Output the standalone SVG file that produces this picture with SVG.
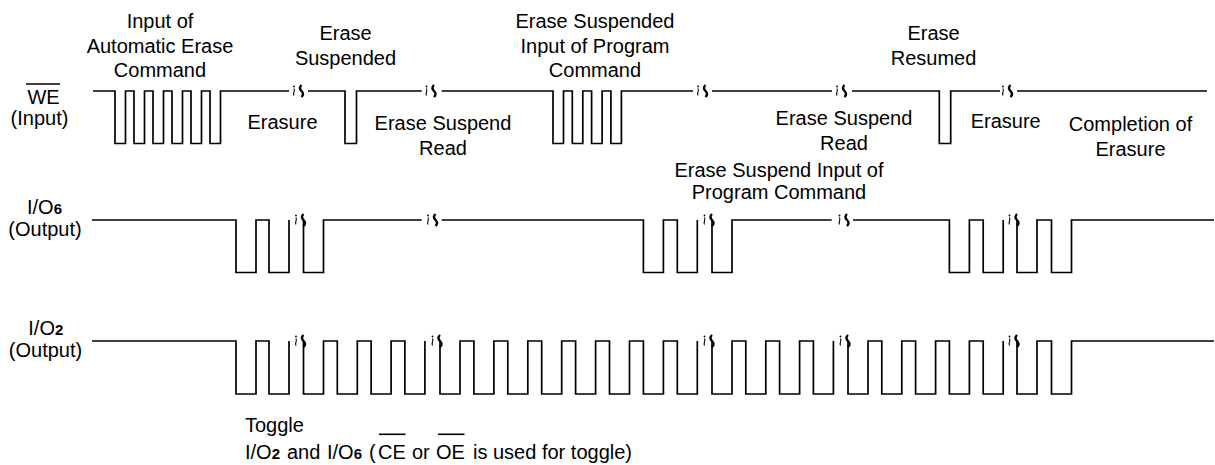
<svg xmlns="http://www.w3.org/2000/svg" xmlns:xlink="http://www.w3.org/1999/xlink" width="1215" height="465" viewBox="0 0 1215 465">
<style>
.t{font-family:"Liberation Sans",Arial,sans-serif;font-size:20px;fill:#000}
.m{text-anchor:middle}
.sub{font-weight:bold;font-size:15px}
.w{fill:none;stroke:#000;stroke-width:1.7;stroke-linejoin:miter}
.ov{stroke:#000;stroke-width:1.6}
.thin{fill:none;stroke:#000;stroke-width:1.1}
.bold{fill:none;stroke:#000;stroke-width:2.4}
</style>
<defs>
<g id="brk"><circle cx="-7" cy="-4.5" r="0.9" fill="#000"/><path class="thin" d="M -7 -2.5 q 0.8 2 0 3.5 q -0.8 2 0 3.5"/><path class="bold" d="M 0.5 -6 q -3 3 0 6 q 3 3 0 6"/></g>
</defs>
<rect width="1215" height="465" fill="#fff"/>

<g id="labels">
<text class="t m" x="43.5" y="104">WE</text>
<line class="ov" x1="26" y1="84" x2="60" y2="84"/>
<text class="t m" x="39.5" y="125">(Input)</text>
<text class="t" x="27" y="214">I/O<tspan class="sub">6</tspan></text>
<text class="t m" x="45" y="236">(Output)</text>
<text class="t" x="28.3" y="335">I/O<tspan class="sub">2</tspan></text>
<text class="t m" x="45.5" y="357">(Output)</text>
</g>

<g id="connectors">
<path id="we" class="w" d="M 93 91 H 115 V 143.5 H 125.5 V 91 H 134 V 143.5 H 144.5 V 91 H 153 V 143.5 H 163.5 V 91 H 172 V 143.5 H 182.5 V 91 H 191 V 143.5 H 201.5 V 91 H 210 V 143.5 H 220.5 V 91 H 289 M 308 91 H 345 V 143.5 H 356.5 V 91 H 421.7 M 441.7 91 H 553 V 143.5 H 563.5 V 91 H 572.3 V 143.5 H 582.8 V 91 H 591.6 V 143.5 H 602.1 V 91 H 610.9 V 143.5 H 621.4 V 91 H 693 M 712 91 H 832 M 852 91 H 939.3 V 143.5 H 950.7 V 91 H 1000 M 1017 91 H 1207"/>
<path id="io6" class="w" d="M 92 220 H 236 V 272.5 H 256 V 220 H 269 V 272.5 H 289 V 220 M 303.5 220 V 272.5 H 323.5 V 220 H 421.7 M 441.7 220 H 643.4 V 272.5 H 663.4 V 220 H 677.3 V 272.5 H 697.3 V 220 M 712 220 V 272.5 H 732 V 220 H 831.7 M 853 220 H 949.4 V 272.5 H 969.4 V 220 H 983.2 V 272.5 H 1003.2 V 220 M 1017 220 V 272.5 H 1037 V 220 H 1051.5 V 272.5 H 1071.5 V 220 H 1214"/>
<path id="io2" class="w" d="M 92 341 H 236 V 394 H 256 V 341 H 269 V 394 H 289 V 341 M 303.5 341 V 394 H 323.5 V 341 H 337.3 V 394 H 357.3 V 341 H 371.1 V 394 H 391.1 V 341 H 404.9 V 394 H 424.9 V 341 M 440 341 V 394 H 460 V 341 H 473.9 V 394 H 493.9 V 341 H 507.8 V 394 H 527.8 V 341 H 541.7 V 394 H 561.7 V 341 H 575.6 V 394 H 595.6 V 341 H 609.5 V 394 H 629.5 V 341 H 643.4 V 394 H 663.4 V 341 H 677.3 V 394 H 697.3 V 341 M 712 341 V 394 H 732 V 341 H 745.8 V 394 H 765.8 V 341 H 779.6 V 394 H 799.6 V 341 H 813.4 V 394 H 833.4 V 341 M 848 341 V 394 H 868 V 341 H 881.8 V 394 H 901.8 V 341 H 915.6 V 394 H 935.6 V 341 H 949.4 V 394 H 969.4 V 341 H 983.2 V 394 H 1003.2 V 341 M 1017 341 V 394 H 1037 V 341 H 1051.5 V 394 H 1071.5 V 341 H 1214"/>
<g id="breaks">
<use xlink:href="#brk" transform="translate(301,91)"/>
<use xlink:href="#brk" transform="translate(433.5,91)"/>
<use xlink:href="#brk" transform="translate(705,91)"/>
<use xlink:href="#brk" transform="translate(844,91)"/>
<use xlink:href="#brk" transform="translate(1010,91)"/>
<use xlink:href="#brk" transform="translate(303,220)"/>
<use xlink:href="#brk" transform="translate(435,220)"/>
<use xlink:href="#brk" transform="translate(711.5,220)"/>
<use xlink:href="#brk" transform="translate(846.5,220)"/>
<use xlink:href="#brk" transform="translate(1016.5,220)"/>
<use xlink:href="#brk" transform="translate(303,341)"/>
<use xlink:href="#brk" transform="translate(439.5,341)"/>
<use xlink:href="#brk" transform="translate(711.5,341)"/>
<use xlink:href="#brk" transform="translate(847.5,341)"/>
<use xlink:href="#brk" transform="translate(1016.5,341)"/>
</g>
</g>

<g id="n-auto-erase"><text class="t m" x="160" y="28">Input of<tspan x="160" dy="24.5">Automatic Erase</tspan><tspan x="160" dy="24.5">Command</tspan></text></g>
<g id="n-erase-susp"><text class="t m" x="345.5" y="40">Erase<tspan x="345.5" dy="24.5">Suspended</tspan></text></g>
<g id="n-erasure1"><text class="t m" x="282.5" y="129">Erasure</text></g>
<g id="n-susp-read1"><text class="t m" x="443" y="130">Erase Suspend<tspan x="443" dy="25">Read</tspan></text></g>
<g id="n-susp-prog"><text class="t m" x="595" y="28">Erase Suspended<tspan x="595" dy="24.5">Input of Program</tspan><tspan x="595" dy="24.5">Command</tspan></text></g>
<g id="n-susp-read2"><text class="t m" x="844" y="125">Erase Suspend<tspan x="844" dy="25">Read</tspan></text></g>
<g id="n-resumed"><text class="t m" x="933.5" y="40">Erase<tspan x="933.5" dy="24.5">Resumed</tspan></text></g>
<g id="n-erasure2"><text class="t m" x="1005.7" y="128">Erasure</text></g>
<g id="n-completion"><text class="t m" x="1130.5" y="131">Completion of<tspan x="1130.5" dy="25">Erasure</tspan></text></g>
<g id="n-susp-prog-in"><text class="t m" x="779" y="177">Erase Suspend Input of<tspan x="779" dy="21.5">Program Command</tspan></text></g>
<g id="n-toggle">
<text class="t" x="245" y="432">Toggle</text>
<text class="t" x="245" y="459">I/O<tspan class="sub">2</tspan><tspan x="287">and</tspan><tspan x="327">I/O</tspan><tspan class="sub">6</tspan><tspan x="369">(</tspan><tspan x="378">CE</tspan><tspan x="412">or</tspan><tspan x="436">OE</tspan><tspan x="473">is used for toggle)</tspan></text>
<line class="ov" x1="379" y1="434.3" x2="405.5" y2="434.3"/>
<line class="ov" x1="438" y1="434.3" x2="464.5" y2="434.3"/>
</g>
</svg>
